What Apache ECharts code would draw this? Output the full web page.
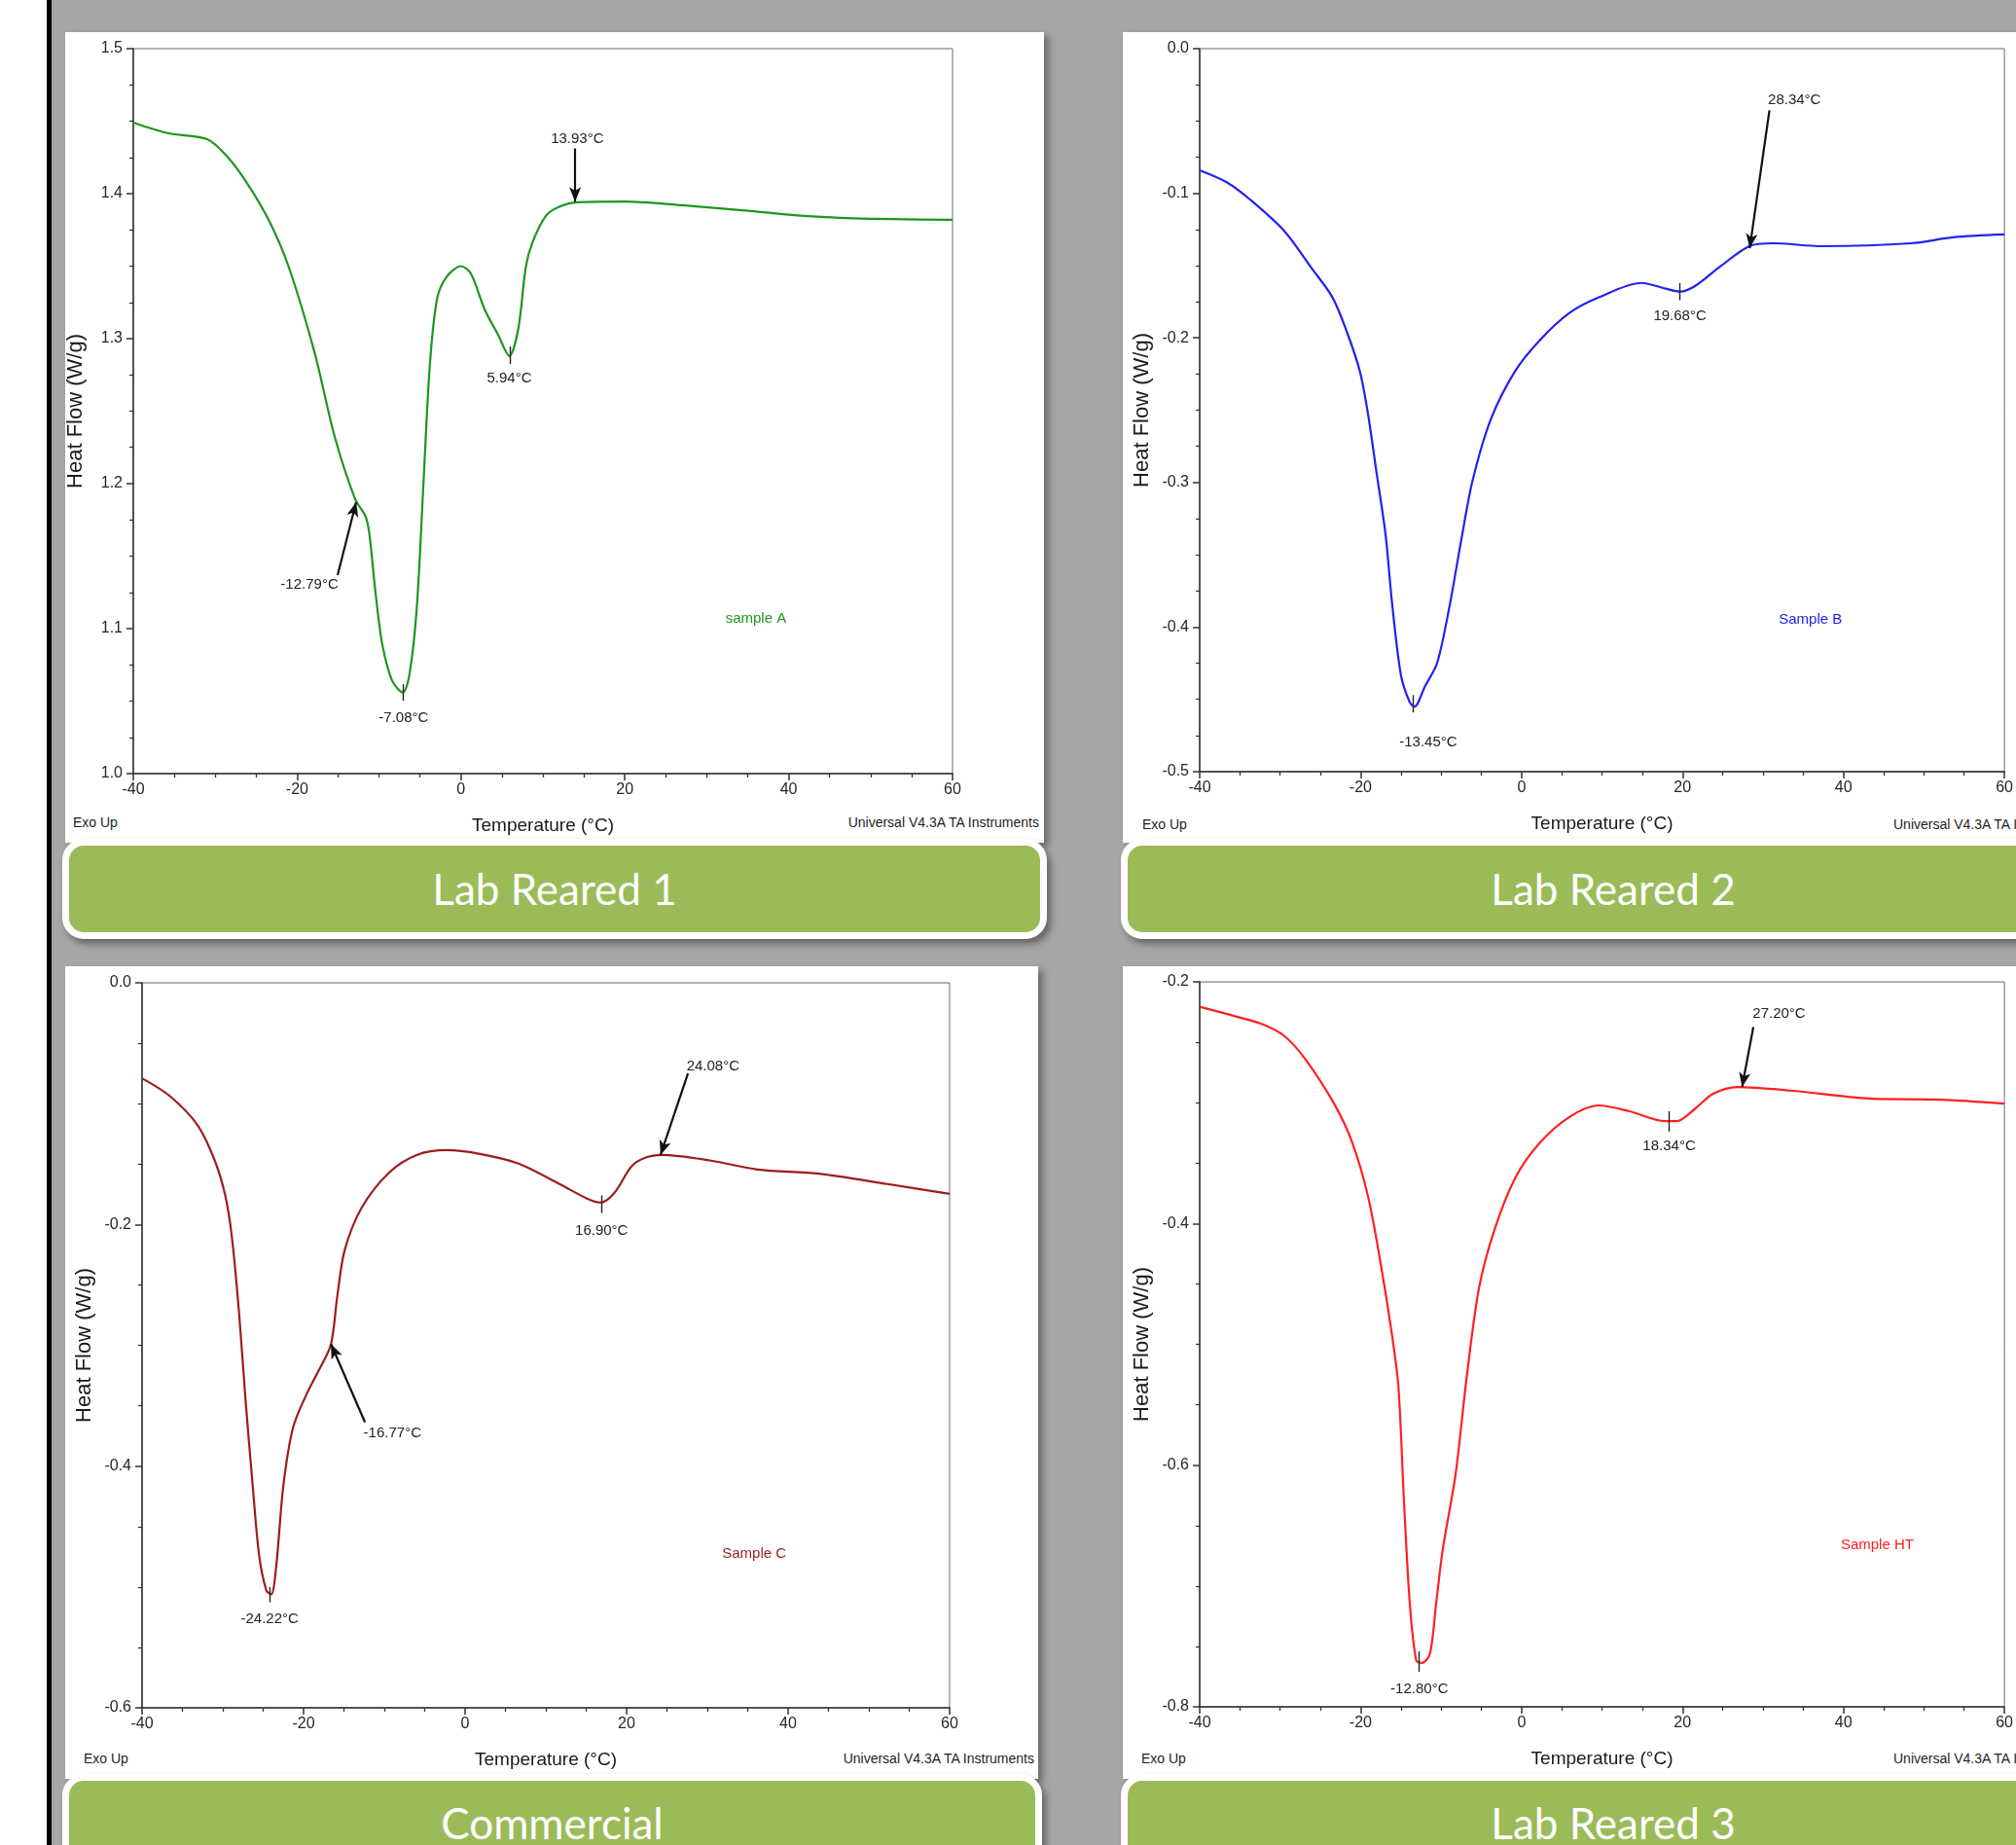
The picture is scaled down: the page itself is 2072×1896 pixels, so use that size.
<!DOCTYPE html>
<html>
<head>
<meta charset="utf-8">
<title>DSC heat flow curves</title>
<script src="https://cdn.jsdelivr.net/npm/echarts@6/dist/echarts.min.js"></script>
<style>
html, body { margin: 0; padding: 0; width: 2072px; height: 1896px; overflow: hidden; background: #a6a6a6; }
.strip { position: absolute; left: 0; top: 0; width: 48px; height: 1896px; background: #fff; }
.rule { position: absolute; left: 48px; top: 0; width: 5px; height: 1896px; background: #000; }
.card { position: absolute; background: #fff; box-shadow: 5px 4px 7px rgba(0,0,0,0.35); }
.band { position: absolute; box-sizing: border-box; border: 7px solid #fff; border-radius: 22px; background: #9bbb59;
        box-shadow: 4px 5px 7px rgba(0,0,0,0.4); color: #fff; font-family: Lato, 'Open Sans', sans-serif; font-size: 44px; text-align: center; }
.foot { position: absolute; font-family: 'Liberation Sans Narrow', 'Liberation Sans', Arial, sans-serif; font-size: 14px; line-height: 16px; color: #1e1e1e; white-space: nowrap; }
#chart { position: absolute; left: 0; top: 0; width: 2072px; height: 1896px; }
</style>
</head>
<body>
<div class="strip"></div>
<div class="rule"></div>

<div class="card" style="left:67px;top:33px;width:1006px;height:833px"></div>
<div class="card" style="left:1154px;top:33px;width:1000px;height:833px"></div>
<div class="card" style="left:67px;top:993px;width:1000px;height:835px"></div>
<div class="card" style="left:1154px;top:993px;width:1000px;height:835px"></div>

<div class="foot" style="left:75px;top:837px">Exo Up</div>
<div class="foot" style="right:1004px;top:837px">Universal V4.3A TA Instruments</div>
<div class="foot" style="left:1174px;top:839px">Exo Up</div>
<div class="foot" style="left:1946px;top:839px">Universal V4.3A TA Instruments</div>
<div class="foot" style="left:86px;top:1799px">Exo Up</div>
<div class="foot" style="right:1009px;top:1799px">Universal V4.3A TA Instruments</div>
<div class="foot" style="left:1173px;top:1799px">Exo Up</div>
<div class="foot" style="left:1946px;top:1799px">Universal V4.3A TA Instruments</div>

<div class="band" style="left:64px;top:862px;width:1012px;height:103px;line-height:89px">Lab Reared 1</div>
<div class="band" style="left:1152px;top:862px;width:1012px;height:103px;line-height:89px">Lab Reared 2</div>
<div class="band" style="left:64px;top:1823px;width:1007px;height:100px;line-height:86px">Commercial</div>
<div class="band" style="left:1152px;top:1823px;width:1012px;height:100px;line-height:86px">Lab Reared 3</div>

<div id="chart"></div>
<script>
// Lab Reared 1 (sample A)
const tempA = [-40, -35.7, -31, -28.6, -26.2, -23.4, -21.0, -17.9, -15.4, -12.9, -11.7, -11.2, -10.4, -9.6, -8.4, -7.1, -6.3, -5.4, -4.6, -3.8, -2.9, -1.7, 0.0, 1.2, 2.9, 4.5, 5.9, 7.0, 7.9, 8.7, 10.4, 12.0, 14.2, 20, 27, 35.4, 41, 47.9, 60];
const flowA = [1.449, 1.4416, 1.4376, 1.426, 1.408, 1.381, 1.349, 1.291, 1.232, 1.189, 1.178, 1.166, 1.123, 1.089, 1.064, 1.056, 1.068, 1.114, 1.198, 1.282, 1.328, 1.343, 1.350, 1.345, 1.320, 1.303, 1.288, 1.307, 1.349, 1.366, 1.385, 1.391, 1.394, 1.3945, 1.392, 1.388, 1.385, 1.383, 1.382];
// Lab Reared 2 (sample B)
const tempB = [-40, -36.6, -33.6, -29.5, -26.2, -23.5, -21.7, -20.1, -19.1, -18.0, -16.9, -16.1, -15.0, -13.9, -13.3, -12.0, -10.5, -9.0, -7.5, -6.1, -3.8, -0.8, 2.2, 5.9, 9.6, 14.9, 17.9, 19.7, 21.6, 24.6, 28.3, 31.2, 37.3, 48.4, 53.6, 60];
const flowB = [-0.0841, -0.0925, -0.105, -0.126, -0.151, -0.172, -0.196, -0.223, -0.252, -0.294, -0.336, -0.383, -0.433, -0.452, -0.455, -0.441, -0.425, -0.387, -0.340, -0.299, -0.256, -0.223, -0.202, -0.183, -0.172, -0.162, -0.166, -0.168, -0.164, -0.151, -0.1366, -0.1346, -0.1366, -0.1346, -0.1305, -0.1285];
// Commercial (sample C)
const tempC = [-40, -36.5, -33.1, -31.0, -29.7, -28.9, -28.0, -27.2, -26.3, -25.5, -24.6, -24.0, -23.4, -22.5, -21.3, -19.6, -17.9, -16.6, -15.8, -14.9, -12.8, -9.4, -6.0, -2.2, 1.7, 6.6, 11.7, 15.1, 16.8, 18.5, 20.6, 22.3, 24.4, 30.3, 36.2, 43.8, 52.3, 60];
const flowC = [-0.079, -0.094, -0.118, -0.147, -0.176, -0.209, -0.272, -0.344, -0.416, -0.474, -0.503, -0.506, -0.484, -0.416, -0.368, -0.340, -0.318, -0.299, -0.258, -0.221, -0.186, -0.157, -0.1425, -0.1385, -0.1415, -0.1496, -0.1665, -0.1785, -0.1818, -0.1737, -0.152, -0.1448, -0.1425, -0.147, -0.1545, -0.158, -0.1665, -0.1747];
// Lab Reared 3 (sample HT)
const tempD = [-40, -35.9, -32.2, -29.5, -26.9, -23.2, -21.0, -19.1, -17.6, -16.1, -15.3, -14.6, -13.9, -13.1, -12.4, -11.4, -10.6, -9.8, -8.2, -6.8, -5.3, -3.4, -0.8, 2.2, 5.9, 9.6, 13.4, 17.8, 19.3, 21.6, 23.8, 26.8, 33.5, 43.2, 52.2, 60];
const flowD = [-0.2206, -0.2279, -0.235, -0.2447, -0.2637, -0.302, -0.3337, -0.377, -0.4295, -0.4923, -0.5356, -0.6317, -0.7135, -0.7614, -0.7637, -0.7565, -0.7135, -0.670, -0.6075, -0.526, -0.4537, -0.4058, -0.3624, -0.3337, -0.312, -0.3023, -0.3071, -0.3152, -0.3152, -0.3047, -0.2926, -0.287, -0.290, -0.2966, -0.2975, -0.3007];

// annotations: arrows [tailX, tailY, headX, headY], peak ticks [x, y1, y2], labels [x, y, text]
const arrowsA = [[13.93, 1.4312, 13.93, 1.3945], [-15.06, 1.1369, -12.8, 1.1873]];
const arrowsB = [[30.8, -0.0426, 28.35, -0.138]];
const arrowsC = [[27.6, -0.075, 24.2, -0.1425], [-12.4, -0.3636, -16.6, -0.299]];
const arrowsD = [[28.8, -0.2375, 27.4, -0.287]];
const ticksA = [[5.94, 1.2946, 1.2826], [-7.08, 1.0617, 1.0503]];
const ticksB = [[19.68, -0.162, -0.174], [-13.45, -0.447, -0.459]];
const ticksC = [[16.9, -0.176, -0.1905], [-24.22, -0.5, -0.5127]];
const ticksD = [[18.34, -0.307, -0.324], [-12.8, -0.754, -0.771]];
const labelsA = [[14.2, 1.4376, '13.93°C'], [5.9, 1.2725, '5.94°C'], [-7.0, 1.0386, '-7.08°C'], [-18.5, 1.1302, '-12.79°C']];
const labelsB = [[33.9, -0.0357, '28.34°C'], [19.68, -0.185, '19.68°C'], [-11.6, -0.480, '-13.45°C']];
const labelsC = [[30.7, -0.0689, '24.08°C'], [16.9, -0.205, '16.90°C'], [-9.0, -0.373, '-16.77°C'], [-24.2, -0.527, '-24.22°C']];
const labelsD = [[32.0, -0.2266, '27.20°C'], [18.34, -0.336, '18.34°C'], [-12.7, -0.7855, '-12.80°C']];
const sampleNames = [[36.0, 1.1067, 'sample A'], [35.9, -0.395, 'Sample B'], [35.8, -0.473, 'Sample C'], [44.2, -0.6663, 'Sample HT']];

const xTicks = { min: -40, max: 60, interval: 20 };
const yRanges = [[1.0, 1.5, 0.1], [-0.5, 0.0, 0.1], [-0.6, 0.0, 0.2], [-0.8, -0.2, 0.2]];
const colors = ['#1e961e', '#2222f0', '#9e1c1c', '#ff2020'];

const FONT = "'Liberation Sans Narrow', 'Liberation Sans', Arial, sans-serif";

const panels = [
	{ temp: tempA, flow: flowA, arrows: arrowsA, ticks: ticksA, labels: labelsA },
	{ temp: tempB, flow: flowB, arrows: arrowsB, ticks: ticksB, labels: labelsB },
	{ temp: tempC, flow: flowC, arrows: arrowsC, ticks: ticksC, labels: labelsC },
	{ temp: tempD, flow: flowD, arrows: arrowsD, ticks: ticksD, labels: labelsD },
];

const grids = [
	{ left: 137, top: 50, width: 842, height: 745 },
	{ left: 1233, top: 50, width: 831, height: 743 },
	{ left: 146, top: 1010, width: 830, height: 745 },
	{ left: 1233, top: 1009, width: 831, height: 745 },
];

let myChart = echarts.init(document.getElementById('chart'), null, { renderer: 'canvas' });

const axisText = { color: '#262626', fontSize: 16, fontFamily: FONT };

myChart.setOption({
	animation: false,
	backgroundColor: 'transparent',
	grid: grids.map((g) => Object.assign({ show: true, borderColor: '#6a6a6a', borderWidth: 1, backgroundColor: 'transparent', containLabel: false }, g)),
	xAxis: grids.map((g, i) => ({
		gridIndex: i,
		type: 'value',
		min: xTicks.min,
		max: xTicks.max,
		interval: xTicks.interval,
		name: 'Temperature (°C)',
		nameLocation: 'middle',
		nameGap: 44,
		nameTextStyle: { color: '#1a1a1a', fontSize: 19, fontFamily: FONT },
		axisLine: { onZero: false, lineStyle: { color: '#333', width: 1.5 } },
		axisTick: { show: true, inside: false, length: 7, lineStyle: { color: '#333', width: 1.5 } },
		minorTick: { show: true, splitNumber: 4, length: 4, lineStyle: { color: '#333', width: 1.3 } },
		splitLine: { show: false },
		axisLabel: Object.assign({ margin: 9 }, axisText),
	})),
	yAxis: grids.map((g, i) => ({
		gridIndex: i,
		type: 'value',
		min: yRanges[i][0],
		max: yRanges[i][1],
		interval: yRanges[i][2],
		name: 'Heat Flow (W/g)',
		nameLocation: 'middle',
		nameGap: 48,
		nameRotate: 90,
		nameTextStyle: { color: '#1a1a1a', fontSize: 22, fontFamily: FONT },
		axisLine: { onZero: false, lineStyle: { color: '#333', width: 1.5 } },
		axisTick: { show: true, inside: false, length: 7, lineStyle: { color: '#333', width: 1.5 } },
		minorTick: { show: true, splitNumber: 4, length: 4, lineStyle: { color: '#333', width: 1.3 } },
		splitLine: { show: false },
		axisLabel: Object.assign({ margin: 11, formatter: (v) => v.toFixed(1) }, axisText),
	})),
	series: panels.map((p, i) => {
		const arrowData = p.arrows.map((a) => [{ coord: [a[0], a[1]] }, { coord: [a[2], a[3]] }]);
		const tickData = p.ticks.map((t) => [
			{ coord: [t[0], t[1]], symbol: 'none', lineStyle: { width: 1.4, color: '#222' } },
			{ coord: [t[0], t[2]], symbol: 'none' },
		]);
		const textData = p.labels.map((l) => ({ coord: [l[0], l[1]], name: l[2] }));
		const s = sampleNames[i];
		textData.push({ coord: [s[0], s[1]], name: s[2], label: { color: colors[i] } });
		return {
			type: 'line',
			xAxisIndex: i,
			yAxisIndex: i,
			data: p.temp.map((x, k) => [x, p.flow[k]]),
			showSymbol: false,
			symbol: 'none',
			smooth: 0.3,
			lineStyle: { color: colors[i], width: 2.2 },
			markLine: {
				silent: true,
				symbol: ['none', 'arrow'],
				symbolSize: [9, 15],
				label: { show: false },
				lineStyle: { color: '#111', width: 2.2, type: 'solid' },
				data: arrowData.concat(tickData),
			},
			markPoint: {
				silent: true,
				symbol: 'rect',
				symbolSize: 1,
				itemStyle: { color: 'rgba(0,0,0,0)' },
				label: { show: true, position: 'inside', formatter: '{b}', color: '#222', fontSize: 15, fontFamily: FONT },
				data: textData,
			},
		};
	}),
});
</script>
</body>
</html>
